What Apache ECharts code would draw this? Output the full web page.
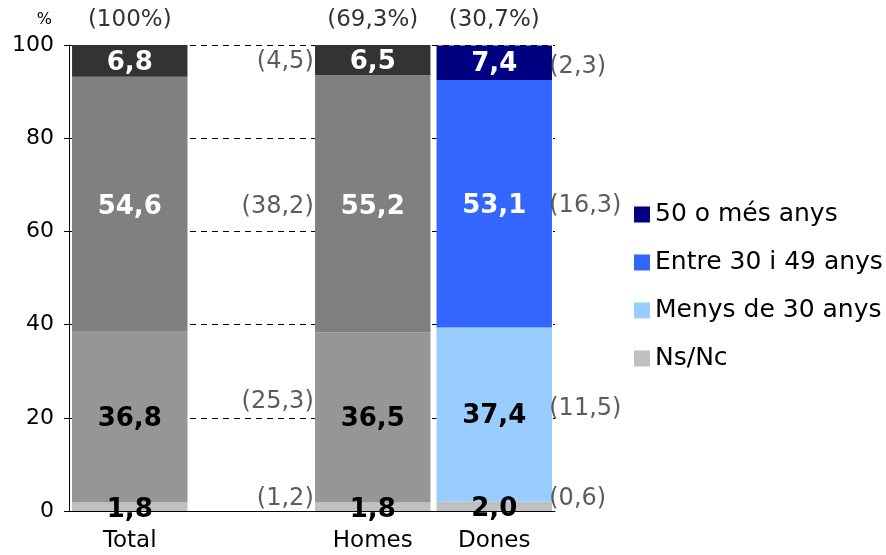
<!DOCTYPE html>
<html><head><meta charset="utf-8">
<script src="https://cdn.jsdelivr.net/npm/echarts@6/dist/echarts.min.js"></script>
<style>html,body{margin:0;padding:0;background:#fff}#c{width:886px;height:555px}</style>
</head><body><div id="c"></div>
<script>
const categories = ['Total', '', 'Homes', 'Dones'];
const topLabels = ['(100%)', '', '(69,3%)', '(30,7%)'];
const seriesNames = ['Ns/Nc', 'Menys de 30 anys', 'Entre 30 i 49 anys', '50 o més anys'];
const nsnc   = [1.8, null, 1.8, 2.0];
const menys30 = [36.8, null, 36.5, 37.4];
const entre30_49 = [54.6, null, 55.2, 53.1];
const mes50 = [6.8, null, 6.5, 7.4];
const homesShare = [1.2, 25.3, 38.2, 4.5];
const donesShare = [0.6, 11.5, 16.3, 2.3];
const yTicks = [0, 20, 40, 60, 80, 100];

const womenColors = ['#c0c0c0', '#99ccff', '#3366ff', '#000080'];
const grayColors  = ['#c0c0c0', '#969696', '#808080', '#333333'];
const labelColors = ['#000', '#000', '#fff', '#fff'];
const labelDy = [3, 2, 3, 2];
const homesDy = [-8, -16, 3, 2];
const donesDy = [-8, -6, 2, 4];
const FONT = 'DejaVu Sans';
const fmt = v => String(v.toFixed(1)).replace('.', ',');

const stacks = [nsnc, menys30, entre30_49, mes50];
const barSeries = stacks.map((arr, si) => ({
  name: seriesNames[si], type: 'bar', stack: 'a', barCategoryGap: '5%',
  itemStyle: { color: womenColors[si] },
  label: { show: true, position: 'inside', offset: [0, labelDy[si]], color: labelColors[si], fontFamily: FONT,
           fontWeight: 'bold', fontSize: 26, formatter: p => p.value == null ? '' : fmt(p.value) },
  data: arr.map((v, ci) => ({ value: v, itemStyle: { color: categories[ci] === 'Dones' ? womenColors[si] : grayColors[si] } }))
}));

function mids(col) {
  let acc = 0; return stacks.map(a => { const v = a[col]; const m = acc + v / 2; acc += v; return m; });
}
const hm = mids(2), dm = mids(3);
const shareSeries = [
  { type: 'scatter', symbolSize: 0, silent: true,
    data: hm.map((m, i) => ({ value: ['Homes', m], label: { offset: [0, homesDy[i]] } })),
    label: { show: true, position: 'left', distance: 59, color: '#333', fontFamily: FONT, fontSize: 24,
             formatter: p => '(' + fmt(homesShare[p.dataIndex]) + ')' } },
  { type: 'scatter', symbolSize: 0, silent: true,
    data: dm.map((m, i) => ({ value: ['Dones', m], label: { offset: [0, donesDy[i]] } })),
    label: { show: true, position: 'right', distance: 55, color: '#333', fontFamily: FONT, fontSize: 24,
             formatter: p => '(' + fmt(donesShare[p.dataIndex]) + ')' } }
];

const chart = echarts.init(document.getElementById('c'));
chart.setOption({
  animation: false,
  grid: { left: 69, right: 331, top: 45, bottom: 44 },
  legend: {
    data: seriesNames.slice().reverse(), orient: 'vertical', left: 629, top: 197,
    icon: 'rect', itemWidth: 16, itemHeight: 16, itemGap: 23,
    textStyle: { fontFamily: FONT, fontSize: 25, color: '#000' }
  },
  xAxis: [
    { type: 'category', data: categories, position: 'bottom',
      axisLine: { lineStyle: { color: '#000', width: 1 } }, axisTick: { show: false },
      axisLabel: { color: '#000', fontFamily: FONT, fontSize: 23, margin: 19 } },
    { type: 'category', data: topLabels, position: 'top',
      axisLine: { show: false }, axisTick: { show: false },
      axisLabel: { color: '#333', fontFamily: FONT, fontSize: 23, margin: 13 } }
  ],
  yAxis: {
    type: 'value', min: 0, max: 100, interval: 20,
    name: '%', nameLocation: 'end', nameGap: 17,
    nameTextStyle: { fontFamily: FONT, fontSize: 16, color: '#000', align: 'right', padding: [0, 17, 0, 0] },
    axisLine: { show: true, lineStyle: { color: '#000' } },
    axisTick: { show: true, length: 5, lineStyle: { color: '#000' } },
    axisLabel: { color: '#000', fontFamily: FONT, fontSize: 22, margin: 15,
                 formatter: v => yTicks.includes(v) ? String(v) : '' },
    splitLine: { show: true, lineStyle: { color: '#000', type: [6, 5], width: 1 } }
  },
  series: barSeries.concat(shareSeries)
});
</script></body></html>
